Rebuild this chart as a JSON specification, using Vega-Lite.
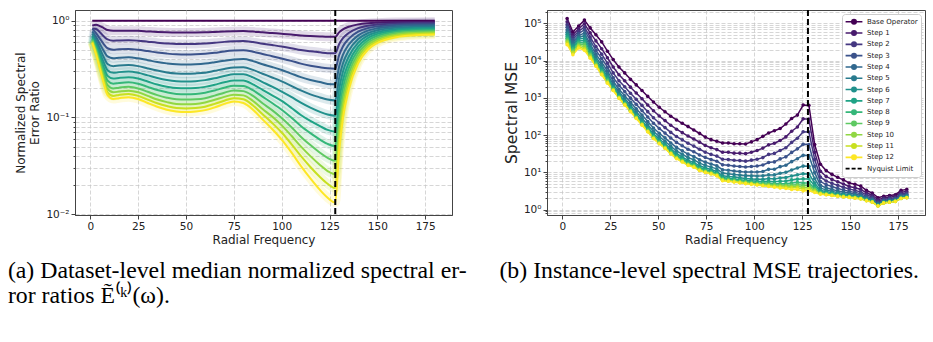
{
  "$schema": "https://vega.github.io/schema/vega-lite/v6.json",
  "background": "white",
  "padding": {"left": 7, "top": 6, "right": 5, "bottom": 0},
  "bounds": "flush",
  "spacing": 95,
  "config": {
    "font": "DejaVu Sans",
    "view": {"stroke": "#444444", "strokeWidth": 1},
    "axis": {
      "labelFont": "DejaVu Sans", "labelFontSize": 10.5, "labelColor": "#222222",
      "titleFont": "DejaVu Sans", "titleFontSize": 12, "titleFontWeight": "normal", "titleColor": "#222222",
      "domainColor": "#444444", "tickColor": "#444444", "gridColor": "#c4c4c4", "gridDash": [4, 2], "gridWidth": 0.7,
      "labelOverlap": false
    },
    "title": {"font": "Liberation Serif", "fontSize": 23.8, "fontWeight": "normal", "color": "#000000", "baseline": "top"}
  },
  "datasets": {
    "left": [
      {"x":1,"b":1,"s1":0.89,"s2":0.83,"s3":0.822,"s4":0.776,"s5":0.736,"s6":0.703,"s7":0.676,"s8":0.653,"s9":0.633,"s10":0.616,"s11":0.601,"s12":0.589},
      {"x":3,"b":1,"s1":0.91,"s2":0.82,"s3":0.742,"s4":0.679,"s5":0.627,"s6":0.585,"s7":0.551,"s8":0.523,"s9":0.498,"s10":0.479,"s11":0.461,"s12":0.447},
      {"x":5,"b":1,"s1":0.88,"s2":0.76,"s3":0.653,"s4":0.575,"s5":0.513,"s6":0.465,"s7":0.427,"s8":0.396,"s9":0.369,"s10":0.349,"s11":0.331,"s12":0.316},
      {"x":7,"b":1,"s1":0.84,"s2":0.69,"s3":0.574,"s4":0.488,"s5":0.42,"s6":0.37,"s7":0.33,"s8":0.30,"s9":0.274,"s10":0.254,"s11":0.238,"s12":0.224},
      {"x":9,"b":1,"s1":0.80,"s2":0.64,"s3":0.519,"s4":0.427,"s5":0.357,"s6":0.308,"s7":0.269,"s8":0.24,"s9":0.216,"s10":0.197,"s11":0.182,"s12":0.170},
      {"x":12,"b":1,"s1":0.785,"s2":0.621,"s3":0.501,"s4":0.408,"s5":0.339,"s6":0.289,"s7":0.252,"s8":0.223,"s9":0.199,"s10":0.182,"s11":0.167,"s12":0.155},
      {"x":15,"b":1,"s1":0.787,"s2":0.625,"s3":0.506,"s4":0.413,"s5":0.344,"s6":0.294,"s7":0.256,"s8":0.227,"s9":0.203,"s10":0.185,"s11":0.171,"s12":0.158},
      {"x":20,"b":1,"s1":0.789,"s2":0.629,"s3":0.51,"s4":0.418,"s5":0.348,"s6":0.298,"s7":0.26,"s8":0.231,"s9":0.207,"s10":0.189,"s11":0.175,"s12":0.162},
      {"x":25,"b":1,"s1":0.785,"s2":0.621,"s3":0.501,"s4":0.408,"s5":0.339,"s6":0.289,"s7":0.252,"s8":0.223,"s9":0.199,"s10":0.182,"s11":0.167,"s12":0.155},
      {"x":30,"b":1,"s1":0.775,"s2":0.607,"s3":0.485,"s4":0.391,"s5":0.321,"s6":0.272,"s7":0.235,"s8":0.207,"s9":0.184,"s10":0.167,"s11":0.153,"s12":0.141},
      {"x":35,"b":1,"s1":0.766,"s2":0.593,"s3":0.469,"s4":0.374,"s5":0.305,"s6":0.256,"s7":0.219,"s8":0.192,"s9":0.17,"s10":0.153,"s11":0.14,"s12":0.129},
      {"x":40,"b":1,"s1":0.759,"s2":0.582,"s3":0.457,"s4":0.362,"s5":0.292,"s6":0.244,"s7":0.208,"s8":0.182,"s9":0.16,"s10":0.144,"s11":0.131,"s12":0.12},
      {"x":45,"b":1,"s1":0.755,"s2":0.575,"s3":0.449,"s4":0.354,"s5":0.285,"s6":0.237,"s7":0.201,"s8":0.175,"s9":0.154,"s10":0.138,"s11":0.125,"s12":0.115},
      {"x":50,"b":1,"s1":0.754,"s2":0.574,"s3":0.447,"s4":0.352,"s5":0.283,"s6":0.235,"s7":0.2,"s8":0.174,"s9":0.153,"s10":0.137,"s11":0.124,"s12":0.1135},
      {"x":55,"b":1,"s1":0.755,"s2":0.575,"s3":0.449,"s4":0.354,"s5":0.285,"s6":0.237,"s7":0.201,"s8":0.175,"s9":0.154,"s10":0.138,"s11":0.125,"s12":0.115},
      {"x":60,"b":1,"s1":0.758,"s2":0.581,"s3":0.455,"s4":0.36,"s5":0.29,"s6":0.243,"s7":0.207,"s8":0.18,"s9":0.158,"s10":0.143,"s11":0.129,"s12":0.119},
      {"x":65,"b":1,"s1":0.765,"s2":0.591,"s3":0.466,"s4":0.372,"s5":0.303,"s6":0.254,"s7":0.218,"s8":0.19,"s9":0.168,"s10":0.152,"s11":0.138,"s12":0.127},
      {"x":70,"b":1,"s1":0.773,"s2":0.604,"s3":0.481,"s4":0.386,"s5":0.317,"s6":0.268,"s7":0.231,"s8":0.203,"s9":0.18,"s10":0.163,"s11":0.149,"s12":0.138},
      {"x":75,"b":1,"s1":0.779,"s2":0.612,"s3":0.491,"s4":0.397,"s5":0.328,"s6":0.279,"s7":0.241,"s8":0.213,"s9":0.19,"s10":0.172,"s11":0.158,"s12":0.146},
      {"x":80,"b":1,"s1":0.782,"s2":0.617,"s3":0.495,"s4":0.401,"s5":0.33,"s6":0.28,"s7":0.241,"s8":0.211,"s9":0.187,"s10":0.169,"s11":0.154,"s12":0.141},
      {"x":85,"b":1,"s1":0.772,"s2":0.601,"s3":0.478,"s4":0.382,"s5":0.31,"s6":0.259,"s7":0.22,"s8":0.191,"s9":0.167,"s10":0.148,"s11":0.133,"s12":0.12},
      {"x":90,"b":1,"s1":0.758,"s2":0.579,"s3":0.452,"s4":0.355,"s5":0.283,"s6":0.232,"s7":0.193,"s8":0.164,"s9":0.14,"s10":0.122,"s11":0.108,"s12":0.0955},
      {"x":95,"b":1,"s1":0.745,"s2":0.56,"s3":0.43,"s4":0.332,"s5":0.259,"s6":0.208,"s7":0.169,"s8":0.141,"s9":0.119,"s10":0.102,"s11":0.0877,"s12":0.0759},
      {"x":100,"b":1,"s1":0.733,"s2":0.541,"s3":0.407,"s4":0.309,"s5":0.236,"s6":0.185,"s7":0.148,"s8":0.12,"s9":0.0986,"s10":0.0828,"s11":0.0698,"s12":0.0589},
      {"x":105,"b":1,"s1":0.72,"s2":0.52,"s3":0.384,"s4":0.284,"s5":0.212,"s6":0.163,"s7":0.126,"s8":0.0998,"s9":0.0796,"s10":0.065,"s11":0.0533,"s12":0.0437},
      {"x":110,"b":1,"s1":0.705,"s2":0.498,"s3":0.36,"s4":0.261,"s5":0.19,"s6":0.142,"s7":0.106,"s8":0.0817,"s9":0.0632,"s10":0.0502,"s11":0.04,"s12":0.0316},
      {"x":115,"b":1,"s1":0.695,"s2":0.483,"s3":0.343,"s4":0.244,"s5":0.173,"s6":0.126,"s7":0.0919,"s8":0.0689,"s9":0.0518,"s10":0.0398,"s11":0.0307,"s12":0.0234},
      {"x":120,"b":1,"s1":0.687,"s2":0.471,"s3":0.33,"s4":0.232,"s5":0.161,"s6":0.114,"s7":0.0813,"s8":0.059,"s9":0.0432,"s10":0.0323,"s11":0.0242,"s12":0.0178},
      {"x":124,"b":1,"s1":0.681,"s2":0.462,"s3":0.322,"s4":0.222,"s5":0.153,"s6":0.107,"s7":0.0743,"s8":0.0532,"s9":0.0382,"s10":0.0279,"s11":0.0206,"s12":0.0148},
      {"x":128,"b":1,"s1":0.681,"s2":0.461,"s3":0.319,"s4":0.22,"s5":0.15,"s6":0.104,"s7":0.0713,"s8":0.0505,"s9":0.0357,"s10":0.0258,"s11":0.0186,"s12":0.0132},
      {"x":130,"b":1,"s1":0.757,"s2":0.571,"s3":0.439,"s4":0.335,"s5":0.254,"s6":0.195,"s7":0.149,"s8":0.116,"s9":0.09,"s10":0.0711,"s11":0.0561,"s12":0.0438},
      {"x":132,"b":1,"s1":0.813,"s2":0.659,"s3":0.542,"s4":0.444,"s5":0.361,"s6":0.296,"s7":0.242,"s8":0.201,"s9":0.167,"s10":0.14,"s11":0.117,"s12":0.0973},
      {"x":135,"b":1,"s1":0.865,"s2":0.746,"s3":0.649,"s4":0.564,"s5":0.488,"s6":0.424,"s7":0.367,"s8":0.322,"s9":0.282,"s10":0.248,"s11":0.219,"s12":0.192},
      {"x":140,"b":1,"s1":0.916,"s2":0.838,"s3":0.769,"s4":0.705,"s5":0.646,"s6":0.593,"s7":0.543,"s8":0.501,"s9":0.461,"s10":0.427,"s11":0.394,"s12":0.364},
      {"x":145,"b":1,"s1":0.942,"s2":0.887,"s3":0.838,"s4":0.789,"s5":0.743,"s6":0.701,"s7":0.661,"s8":0.625,"s9":0.59,"s10":0.56,"s11":0.53,"s12":0.501},
      {"x":150,"b":1,"s1":0.955,"s2":0.912,"s3":0.873,"s4":0.834,"s5":0.798,"s6":0.762,"s7":0.73,"s8":0.698,"s9":0.668,"s10":0.641,"s11":0.614,"s12":0.588},
      {"x":160,"b":1,"s1":0.968,"s2":0.936,"s3":0.906,"s4":0.877,"s5":0.849,"s6":0.82,"s7":0.794,"s8":0.769,"s9":0.745,"s10":0.721,"s11":0.698,"s12":0.676},
      {"x":170,"b":1,"s1":0.97,"s2":0.944,"s3":0.917,"s4":0.891,"s5":0.865,"s6":0.839,"s7":0.817,"s8":0.793,"s9":0.771,"s10":0.748,"s11":0.728,"s12":0.706},
      {"x":180,"b":1,"s1":0.973,"s2":0.946,"s3":0.92,"s4":0.895,"s5":0.871,"s6":0.847,"s7":0.824,"s8":0.802,"s9":0.78,"s10":0.759,"s11":0.738,"s12":0.718}
    ],
    "right": [
      {"x":2.5,"b":135000,"s1":111000,"s2":93000,"s3":79000,"s4":67000,"s5":58000,"s6":51000,"s7":45000,"s8":40000,"s9":36000,"s10":33000,"s11":30000,"s12":27000},
      {"x":5.5,"b":59000,"s1":50000,"s2":43000,"s3":37000,"s4":32000,"s5":28000,"s6":25000,"s7":23000,"s8":21000,"s9":19000,"s10":17000,"s11":16000,"s12":14500},
      {"x":8.5,"b":85000,"s1":72000,"s2":62000,"s3":54000,"s4":47000,"s5":42000,"s6":38000,"s7":34000,"s8":31000,"s9":28000,"s10":26000,"s11":24000,"s12":22000},
      {"x":11.5,"b":123000,"s1":98000,"s2":80000,"s3":67000,"s4":55000,"s5":47000,"s6":40000,"s7":35000,"s8":30000,"s9":27000,"s10":24000,"s11":21000,"s12":19000},
      {"x":14.5,"b":76000,"s1":56000,"s2":43000,"s3":35000,"s4":28000,"s5":24000,"s6":21000,"s7":18000,"s8":16000,"s9":14700,"s10":13600,"s11":12600,"s12":11700},
      {"x":17.5,"b":50000,"s1":34000,"s2":24000,"s3":19000,"s4":15000,"s5":12500,"s6":10700,"s7":9500,"s8":8800,"s9":8100,"s10":7700,"s11":7400,"s12":7100},
      {"x":20.5,"b":32000,"s1":21000,"s2":15000,"s3":11500,"s4":9000,"s5":7500,"s6":6400,"s7":5600,"s8":5200,"s9":4800,"s10":4600,"s11":4300,"s12":4200},
      {"x":23.5,"b":18000,"s1":12000,"s2":8600,"s3":6700,"s4":5300,"s5":4400,"s6":3800,"s7":3400,"s8":3100,"s9":2900,"s10":2700,"s11":2600,"s12":2500},
      {"x":26.5,"b":10700,"s1":6800,"s2":4700,"s3":3500,"s4":2800,"s5":2300,"s6":2000,"s7":1870,"s8":1760,"s9":1690,"s10":1650,"s11":1610,"s12":1580},
      {"x":29.5,"b":6800,"s1":4200,"s2":2900,"s3":2200,"s4":1710,"s5":1440,"s6":1260,"s7":1150,"s8":1090,"s9":1040,"s10":1020,"s11":995,"s12":977},
      {"x":32.5,"b":4700,"s1":2900,"s2":2000,"s3":1480,"s4":1150,"s5":960,"s6":836,"s7":764,"s8":720,"s9":692,"s10":671,"s11":659,"s12":646},
      {"x":35.5,"b":3160,"s1":1950,"s2":1340,"s3":989,"s4":762,"s5":637,"s6":553,"s7":506,"s8":476,"s9":457,"s10":444,"s11":436,"s12":427},
      {"x":38.5,"b":2240,"s1":1360,"s2":918,"s3":673,"s4":514,"s5":427,"s6":369,"s7":336,"s8":316,"s9":303,"s10":294,"s11":288,"s12":282},
      {"x":41.5,"b":1580,"s1":948,"s2":631,"s3":458,"s4":347,"s5":286,"s6":246,"s7":223,"s8":209,"s9":201,"s10":195,"s11":190,"s12":186},
      {"x":44.5,"b":1100,"s1":649,"s2":429,"s3":308,"s4":232,"s5":191,"s6":164,"s7":148,"s8":139,"s9":133,"s10":129,"s11":126,"s12":123},
      {"x":47.5,"b":776,"s1":452,"s2":294,"s3":210,"s4":156,"s5":128,"s6":109,"s7":98,"s8":92,"s9":88,"s10":85,"s11":83,"s12":81},
      {"x":50.5,"b":562,"s1":327,"s2":213,"s3":152,"s4":113,"s5":92,"s6":79,"s7":71,"s8":67,"s9":64,"s10":62,"s11":60,"s12":59},
      {"x":53.5,"b":427,"s1":247,"s2":160,"s3":114,"s4":85,"s5":69,"s6":59,"s7":53,"s8":49,"s9":47,"s10":46,"s11":45,"s12":44},
      {"x":56.5,"b":324,"s1":185,"s2":119,"s3":84,"s4":62,"s5":50,"s6":43,"s7":39,"s8":36,"s9":34,"s10":33,"s11":32,"s12":31.6},
      {"x":59.5,"b":257,"s1":145,"s2":92,"s3":64,"s4":47,"s5":38,"s6":32,"s7":28.7,"s8":26.7,"s9":25.5,"s10":24.6,"s11":24,"s12":23.4},
      {"x":62.5,"b":209,"s1":117,"s2":75,"s3":52,"s4":38,"s5":30.8,"s6":26,"s7":23.3,"s8":21.7,"s9":20.7,"s10":20,"s11":19.5,"s12":19.1},
      {"x":65.5,"b":170,"s1":95,"s2":61,"s3":42,"s4":31,"s5":25,"s6":21.1,"s7":19,"s8":17.7,"s9":16.8,"s10":16.3,"s11":15.8,"s12":15.5},
      {"x":68.5,"b":138,"s1":79,"s2":51,"s3":36,"s4":26.9,"s5":21.9,"s6":18.6,"s7":16.8,"s8":15.7,"s9":15,"s10":14.5,"s11":14.1,"s12":13.8},
      {"x":71.5,"b":112,"s1":65,"s2":42,"s3":29.5,"s4":21.9,"s5":17.8,"s6":15.1,"s7":13.6,"s8":12.7,"s9":12.2,"s10":11.7,"s11":11.5,"s12":11.2},
      {"x":74.5,"b":89,"s1":53,"s2":35,"s3":25.1,"s4":18.9,"s5":15.5,"s6":13.3,"s7":12,"s8":11.3,"s9":10.8,"s10":10.4,"s11":10.2,"s12":10},
      {"x":77.5,"b":76,"s1":46,"s2":30.5,"s3":22.2,"s4":16.9,"s5":13.9,"s6":12,"s7":10.9,"s8":10.3,"s9":9.8,"s10":9.5,"s11":9.3,"s12":9.1},
      {"x":80.5,"b":69,"s1":41,"s2":27.5,"s3":20,"s4":15.1,"s5":12.5,"s6":10.7,"s7":9.7,"s8":9.1,"s9":8.8,"s10":8.5,"s11":8.3,"s12":8.1},
      {"x":83.5,"b":62,"s1":35,"s2":22.7,"s3":16,"s4":11.8,"s5":9.6,"s6":8.1,"s7":7.3,"s8":6.9,"s9":6.5,"s10":6.3,"s11":6.2,"s12":6.0},
      {"x":86.5,"b":62,"s1":35,"s2":22.2,"s3":15.6,"s4":11.5,"s5":9.2,"s6":7.8,"s7":7,"s8":6.6,"s9":6.3,"s10":6,"s11":5.9,"s12":5.8},
      {"x":89.5,"b":59,"s1":33,"s2":21.2,"s3":14.9,"s4":10.9,"s5":8.8,"s6":7.5,"s7":6.7,"s8":6.3,"s9":6,"s10":5.8,"s11":5.6,"s12":5.5},
      {"x":92.5,"b":59,"s1":33,"s2":20.8,"s3":14.5,"s4":10.6,"s5":8.5,"s6":7.2,"s7":6.4,"s8":6,"s9":5.7,"s10":5.5,"s11":5.4,"s12":5.2},
      {"x":95.5,"b":58,"s1":32,"s2":20.1,"s3":14,"s4":10.2,"s5":8.2,"s6":6.9,"s7":6.2,"s8":5.7,"s9":5.5,"s10":5.3,"s11":5.1,"s12":5.0},
      {"x":98.5,"b":66,"s1":35,"s2":21.4,"s3":14.4,"s4":10.3,"s5":8.1,"s6":6.7,"s7":6,"s8":5.5,"s9":5.2,"s10":5,"s11":4.9,"s12":4.8},
      {"x":101.5,"b":76,"s1":39,"s2":22.6,"s3":14.9,"s4":10.3,"s5":8,"s6":6.6,"s7":5.8,"s8":5.3,"s9":5,"s10":4.8,"s11":4.7,"s12":4.6},
      {"x":104.5,"b":93,"s1":45,"s2":25,"s3":15.8,"s4":10.6,"s5":8.1,"s6":6.5,"s7":5.7,"s8":5.2,"s9":4.9,"s10":4.6,"s11":4.5,"s12":4.4},
      {"x":107.5,"b":115,"s1":55,"s2":30.5,"s3":18.5,"s4":12.1,"s5":8.6,"s6":6.9,"s7":5.8,"s8":5.2,"s9":4.8,"s10":4.6,"s11":4.4,"s12":4.2},
      {"x":110.5,"b":132,"s1":61,"s2":32.5,"s3":19.2,"s4":12.2,"s5":8.6,"s6":6.7,"s7":5.6,"s8":5,"s9":4.7,"s10":4.4,"s11":4.2,"s12":4.0},
      {"x":113.5,"b":151,"s1":72,"s2":39,"s3":23.1,"s4":14.3,"s5":9.5,"s6":7.1,"s7":5.8,"s8":5,"s9":4.6,"s10":4.3,"s11":4.1,"s12":3.8},
      {"x":116.5,"b":200,"s1":90,"s2":46,"s3":26.2,"s4":15.6,"s5":10.1,"s6":7.3,"s7":5.9,"s8":5,"s9":4.5,"s10":4.3,"s11":4.0,"s12":3.7},
      {"x":119.5,"b":282,"s1":128,"s2":64,"s3":34.5,"s4":19.5,"s5":11.6,"s6":8,"s7":6.3,"s8":5.2,"s9":4.6,"s10":4.2,"s11":3.9,"s12":3.5},
      {"x":122.5,"b":347,"s1":166,"s2":83,"s3":43,"s4":23.4,"s5":13.2,"s6":8.7,"s7":6.6,"s8":5.4,"s9":4.7,"s10":4.3,"s11":3.9,"s12":3.5},
      {"x":125.5,"b":646,"s1":275,"s2":124,"s3":57,"s4":28.8,"s5":14.8,"s6":9.2,"s7":6.7,"s8":5.2,"s9":4.5,"s10":4,"s11":3.6,"s12":3.2},
      {"x":128.5,"b":631,"s1":270,"s2":122,"s3":56,"s4":28.5,"s5":14.7,"s6":9.1,"s7":6.7,"s8":5.2,"s9":4.5,"s10":4,"s11":3.6,"s12":3.2},
      {"x":131.5,"b":56,"s1":35,"s2":22.4,"s3":14.6,"s4":9.9,"s5":6.8,"s6":5.2,"s7":4.4,"s8":3.8,"s9":3.5,"s10":3.3,"s11":3.1,"s12":2.9},
      {"x":134.5,"b":16.6,"s1":10.7,"s2":7.5,"s3":5.7,"s4":4.5,"s5":3.8,"s6":3.3,"s7":3.1,"s8":2.9,"s9":2.8,"s10":2.7,"s11":2.7,"s12":2.6},
      {"x":137.5,"b":11.2,"s1":7.8,"s2":5.9,"s3":4.7,"s4":3.9,"s5":3.4,"s6":3.1,"s7":2.85,"s8":2.7,"s9":2.65,"s10":2.6,"s11":2.55,"s12":2.5},
      {"x":140.5,"b":8.9,"s1":6.5,"s2":5.1,"s3":4.2,"s4":3.5,"s5":3.1,"s6":2.85,"s7":2.7,"s8":2.6,"s9":2.5,"s10":2.46,"s11":2.43,"s12":2.4},
      {"x":143.5,"b":7.4,"s1":5.6,"s2":4.5,"s3":3.7,"s4":3.2,"s5":2.9,"s6":2.7,"s7":2.5,"s8":2.44,"s9":2.39,"s10":2.34,"s11":2.32,"s12":2.29},
      {"x":146.5,"b":6.3,"s1":4.9,"s2":4.0,"s3":3.4,"s4":3.0,"s5":2.7,"s6":2.5,"s7":2.39,"s8":2.32,"s9":2.27,"s10":2.23,"s11":2.21,"s12":2.19},
      {"x":149.5,"b":5.2,"s1":4.2,"s2":3.6,"s3":3.1,"s4":2.8,"s5":2.56,"s6":2.4,"s7":2.31,"s8":2.24,"s9":2.21,"s10":2.18,"s11":2.16,"s12":2.14},
      {"x":152.5,"b":4.8,"s1":3.9,"s2":3.3,"s3":2.9,"s4":2.6,"s5":2.42,"s6":2.28,"s7":2.19,"s8":2.14,"s9":2.1,"s10":2.07,"s11":2.06,"s12":2.04},
      {"x":155.5,"b":4.3,"s1":3.5,"s2":3.0,"s3":2.7,"s4":2.45,"s5":2.28,"s6":2.16,"s7":2.08,"s8":2.04,"s9":2.0,"s10":1.98,"s11":1.96,"s12":1.95},
      {"x":158.5,"b":3.3,"s1":2.84,"s2":2.51,"s3":2.28,"s4":2.09,"s5":1.98,"s6":1.89,"s7":1.84,"s8":1.8,"s9":1.78,"s10":1.76,"s11":1.75,"s12":1.74},
      {"x":161.5,"b":2.8,"s1":2.45,"s2":2.2,"s3":2.02,"s4":1.87,"s5":1.78,"s6":1.71,"s7":1.66,"s8":1.64,"s9":1.62,"s10":1.6,"s11":1.6,"s12":1.58},
      {"x":164.5,"b":2.1,"s1":1.85,"s2":1.68,"s3":1.56,"s4":1.46,"s5":1.39,"s6":1.35,"s7":1.32,"s8":1.29,"s9":1.28,"s10":1.27,"s11":1.26,"s12":1.26},
      {"x":167.5,"b":2.3,"s1":2.07,"s2":1.92,"s3":1.8,"s4":1.71,"s5":1.64,"s6":1.6,"s7":1.57,"s8":1.55,"s9":1.53,"s10":1.53,"s11":1.52,"s12":1.51},
      {"x":170.5,"b":2.4,"s1":2.17,"s2":2.01,"s3":1.89,"s4":1.79,"s5":1.72,"s6":1.67,"s7":1.64,"s8":1.62,"s9":1.61,"s10":1.6,"s11":1.59,"s12":1.58},
      {"x":173.5,"b":2.5,"s1":2.28,"s2":2.1,"s3":1.98,"s4":1.87,"s5":1.8,"s6":1.75,"s7":1.72,"s8":1.7,"s9":1.68,"s10":1.67,"s11":1.67,"s12":1.66},
      {"x":176.5,"b":3.3,"s1":2.93,"s2":2.66,"s3":2.47,"s4":2.31,"s5":2.21,"s6":2.13,"s7":2.08,"s8":2.05,"s9":2.03,"s10":2.01,"s11":2.0,"s12":2.0},
      {"x":179.5,"b":3.5,"s1":3.07,"s2":2.79,"s3":2.58,"s4":2.42,"s5":2.31,"s6":2.23,"s7":2.18,"s8":2.15,"s9":2.13,"s10":2.11,"s11":2.1,"s12":2.09}
    ]
  },
  "hconcat": [
    {
      "width": 377,
      "height": 205,
      "title": {"text": ["(a) Dataset-level median normalized spectral er-", "ror ratios Ẽ⁽ᵏ⁾(ω)."], "orient": "bottom", "anchor": "start", "frame": "bounds", "offset": 13, "dx": -7, "lineHeight": 25},
      "layer": [
        {
          "data": {"name": "left"},
          "transform": [
            {"fold": ["b","s1","s2","s3","s4","s5","s6","s7","s8","s9","s10","s11","s12"]},
            {"filter": "datum.key !== 'b'"}
          ],
          "mark": {"type": "line", "strokeWidth": 9, "opacity": 0.16, "interpolate": "monotone", "clip": true},
          "encoding": {
            "x": {"field": "x", "type": "quantitative", "scale": {"domain": [-8, 189], "nice": false, "zero": false},
                  "axis": {"title": "Radial Frequency", "values": [0,25,50,75,100,125,150,175], "grid": true, "tickSize": 4, "labelPadding": 2, "titlePadding": 3}},
            "y": {"field": "value", "type": "quantitative", "scale": {"type": "log", "domain": [0.0098, 1.29], "nice": false},
                  "axis": {"title": ["Normalized Spectral", "Error Ratio"], "titlePadding": 4, "grid": true,
                           "values": [0.01,0.02,0.03,0.04,0.05,0.06,0.07,0.08,0.09,0.1,0.2,0.3,0.4,0.5,0.6,0.7,0.8,0.9,1],
                           "labelExpr": "datum.value == 1 ? '10⁰' : datum.value == 0.1 ? '10⁻¹' : datum.value == 0.01 ? '10⁻²' : ''",
                           "tickSize": {"condition": {"test": "datum.value == 1 || datum.value == 0.1 || datum.value == 0.01", "value": 4}, "value": 2},
                           "labelPadding": 2}},
            "color": {"field": "key", "type": "nominal",
                      "scale": {"domain": ["b","s1","s2","s3","s4","s5","s6","s7","s8","s9","s10","s11","s12"],
                                "range": ["#440154","#481b6d","#453781","#3b528b","#31688e","#297b8e","#21918c","#20a386","#35b779","#5ec962","#90d743","#c8e020","#fde725"]},
                      "legend": null}
          }
        },
        {
          "data": {"name": "left"},
          "transform": [
            {"fold": ["b","s1","s2","s3","s4","s5","s6","s7","s8","s9","s10","s11","s12"]}
          ],
          "mark": {"type": "line", "strokeWidth": 2, "interpolate": "monotone", "clip": true},
          "encoding": {
            "x": {"field": "x", "type": "quantitative"},
            "y": {"field": "value", "type": "quantitative"},
            "color": {"field": "key", "type": "nominal", "legend": null}
          }
        },
        {
          "data": {"values": [{}]},
          "mark": {"type": "rule", "color": "#000000", "strokeWidth": 2, "strokeDash": [6, 3]},
          "encoding": {"x": {"datum": 128, "type": "quantitative"}}
        }
      ]
    },
    {
      "name": "R",
      "width": 378,
      "height": 205,
      "title": {"text": "(b) Instance-level spectral MSE trajectories.", "orient": "bottom", "anchor": "start", "frame": "bounds", "offset": 13, "dx": -5},
      "layer": [
        {
          "data": {"name": "right"},
          "transform": [
            {"fold": ["b","s1","s2","s3","s4","s5","s6","s7","s8","s9","s10","s11","s12"]}
          ],
          "mark": {"type": "line", "strokeWidth": 1.5, "clip": true},
          "encoding": {
            "x": {"field": "x", "type": "quantitative", "scale": {"domain": [-8, 189], "nice": false, "zero": false},
                  "axis": {"title": "Radial Frequency", "values": [0,25,50,75,100,125,150,175], "grid": true, "tickSize": 4, "labelPadding": 2, "titlePadding": 3}},
            "y": {"field": "value", "type": "quantitative", "scale": {"type": "log", "domain": [0.72, 230000], "nice": false},
                  "axis": {"title": "Spectral MSE", "titleFontSize": 15.5, "titlePadding": 4, "grid": true,
                           "values": [0.8,0.9,1,2,3,4,5,6,7,8,9,10,20,30,40,50,60,70,80,90,100,200,300,400,500,600,700,800,900,1000,2000,3000,4000,5000,6000,7000,8000,9000,10000,20000,30000,40000,50000,60000,70000,80000,90000,100000,200000],
                           "labelExpr": "datum.value == 1 ? '10⁰' : datum.value == 10 ? '10¹' : datum.value == 100 ? '10²' : datum.value == 1000 ? '10³' : datum.value == 10000 ? '10⁴' : datum.value == 100000 ? '10⁵' : ''",
                           "tickSize": {"condition": {"test": "datum.value == 1 || datum.value == 10 || datum.value == 100 || datum.value == 1000 || datum.value == 10000 || datum.value == 100000", "value": 4}, "value": 2},
                           "labelPadding": 2}},
            "color": {"field": "key", "type": "nominal",
                      "scale": {"domain": ["b","s1","s2","s3","s4","s5","s6","s7","s8","s9","s10","s11","s12","nyq"],
                                "range": ["#440154","#481b6d","#453781","#3b528b","#31688e","#297b8e","#21918c","#20a386","#35b779","#5ec962","#90d743","#c8e020","#fde725","#000000"]},
                      "legend": {
                        "orient": "top-right", "offset": 4, "title": null, "padding": 3,
                        "labelFont": "DejaVu Sans", "labelFontSize": 7, "labelColor": "#222222",
                        "symbolSize": 64, "symbolStrokeWidth": 1.6, "rowPadding": 1.3, "clipHeight": 9.5, "labelOffset": 8, "symbolOffset": 4,
                        "strokeColor": "#cccccc", "fillColor": "#ffffff", "cornerRadius": 3,
                        "labelExpr": "datum.value == 'b' ? 'Base Operator' : datum.value == 'nyq' ? 'Nyquist Limit' : 'Step ' + substring(datum.value, 1)",
                        "encode": {"symbols": {"update": {
                          "shape": [{"test": "datum.value == 'nyq'", "value": "M-2.1,0L2.1,0"}, {"value": "M-2.1,0L2.1,0M0.55,0A0.55,0.55,0,1,1,-0.55,0A0.55,0.55,0,1,1,0.55,0Z"}],
                          "strokeDash": [{"test": "datum.value == 'nyq'", "value": [4, 2]}, {"value": []}],
                          "fill": {"scale": "R_color", "field": "value"},
                          "stroke": {"scale": "R_color", "field": "value"},
                          "fillOpacity": {"value": 1},
                          "strokeOpacity": {"value": 1}
                        }}}
                      }}
          }
        },
        {
          "data": {"name": "right"},
          "transform": [
            {"fold": ["b","s1","s2","s3","s4","s5","s6","s7","s8","s9","s10","s11","s12"]}
          ],
          "mark": {"type": "point", "filled": true, "size": 13, "opacity": 1, "clip": true},
          "encoding": {
            "x": {"field": "x", "type": "quantitative"},
            "y": {"field": "value", "type": "quantitative"},
            "color": {"field": "key", "type": "nominal"}
          }
        },
        {
          "data": {"values": [{}]},
          "mark": {"type": "rule", "strokeWidth": 2, "strokeDash": [6, 3]},
          "encoding": {"x": {"datum": 128, "type": "quantitative"}, "color": {"datum": "nyq", "type": "nominal"}}
        }
      ]
    }
  ],
  "resolve": {"scale": {"color": "independent", "x": "independent", "y": "independent"}, "legend": {"color": "independent"}}
}
